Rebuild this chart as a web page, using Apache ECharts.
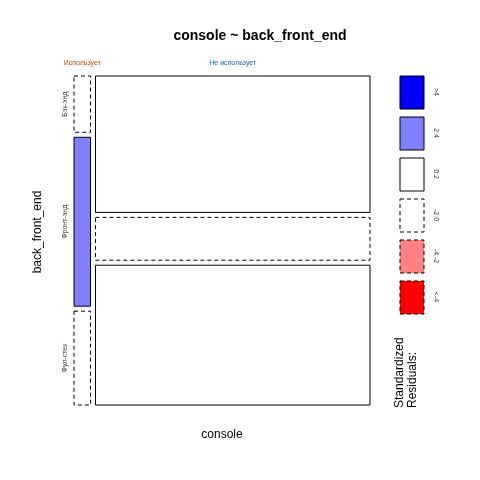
<!DOCTYPE html>
<html><head><meta charset="utf-8">
<script src="https://cdn.jsdelivr.net/npm/echarts@6/dist/echarts.min.js"></script>
<style>html,body{margin:0;background:#fff}#c{width:480px;height:480px}</style>
</head><body><div id="c"></div>
<script>
const colLabels = ['Использует', 'Не использует'];
const rowLabels = ['Бэк-энд', 'Фронт-энд', 'Фул-стек'];
const counts = [
  [3, 9, 5],        // Использует
  [121, 38, 124]    // Не использует
];
const legendLabels = ['>4', '2:4', '0:2', '-2:0', '-4:-2', '<-4'];

const GAP = 5, W = 291, H = 319;
const total = counts.flat().reduce((a, b) => a + b, 0);
const colTot = counts.map(c => c.reduce((a, b) => a + b, 0));
const rowTot = rowLabels.map((_, j) => counts.reduce((a, c) => a + c[j], 0));

function style(r) {
  if (r > 4) return { fill: '#0000ff', dash: false };
  if (r > 2) return { fill: '#8080ff', dash: false };
  if (r > 0) return { fill: '#ffffff', dash: false };
  if (r > -2) return { fill: '#ffffff', dash: true };
  if (r > -4) return { fill: '#ff8080', dash: true };
  return { fill: '#ff0000', dash: true };
}

const cells = [];
let x0 = 0;
counts.forEach((col, i) => {
  const w = colTot[i] / total * W;
  let y0 = 0;
  col.forEach((v, j) => {
    const h = v / colTot[i] * H;
    const e = colTot[i] * rowTot[j] / total;
    const res = (v - e) / Math.sqrt(e);
    cells.push([x0, y0, x0 + w, y0 + h, res, i, j]);
    y0 += h + GAP;
  });
  x0 += w + GAP;
});

const chart = echarts.init(document.getElementById('c'));
const txt = '#000';
const graphic = [];
legendLabels.forEach((l, k) => {
  const s = style([5, 3, 1, -1, -3, -5][k]);
  const y = 76 + k * 41;
  graphic.push({ type: 'rect', shape: { x: 400, y: y, width: 24, height: 33 },
    style: { fill: s.fill, stroke: '#000', lineWidth: 1, lineDash: s.dash ? [4, 3] : null } });
  graphic.push({ type: 'text', x: 436, y: y + 16, rotation: -Math.PI / 2,
    style: { text: l, fontSize: 7, fill: '#333', align: 'center', verticalAlign: 'middle', fontFamily: 'Liberation Sans' } });
});
graphic.push({ type: 'text', x: 406, y: 408, rotation: Math.PI / 2,
  style: { text: 'Standardized\nResiduals:', fontSize: 12, lineHeight: 13, fill: txt, align: 'left', verticalAlign: 'middle', fontFamily: 'Liberation Sans' } });
graphic.push({ type: 'text', x: 38, y: 232, rotation: Math.PI / 2,
  style: { text: 'back_front_end', fontSize: 12, fill: txt, align: 'center', verticalAlign: 'middle', fontFamily: 'Liberation Sans' } });

chart.setOption({
  animation: false,
  title: { text: 'console ~ back_front_end', left: 255, top: 24, textAlign: 'center',
    textStyle: { fontSize: 14, fontWeight: 'bold', fontFamily: 'Liberation Sans', color: '#000' } },
  grid: { left: 74, right: 110, top: 76, bottom: 75 },
  xAxis: { type: 'value', min: 0, max: W + GAP, show: true, name: 'console', nameLocation: 'middle', nameGap: 24,
    nameTextStyle: { fontSize: 12, color: '#000', fontFamily: 'Liberation Sans' },
    axisLine: { show: false }, axisTick: { show: false }, axisLabel: { show: false }, splitLine: { show: false } },
  yAxis: { type: 'value', min: 0, max: H + 2 * GAP, inverse: true, show: false },
  graphic: graphic,
  series: [{
    type: 'custom',
    data: cells,
    renderItem: (params, api) => {
      const p0 = api.coord([api.value(0), api.value(1)]);
      const p1 = api.coord([api.value(2), api.value(3)]);
      const s = style(api.value(4));
      const i = api.value(5), j = api.value(6);
      const ch = [{ type: 'rect', shape: { x: p0[0], y: p0[1], width: p1[0] - p0[0], height: p1[1] - p0[1] },
        style: { fill: s.fill, stroke: '#000', lineWidth: 1, lineDash: s.dash ? [4, 3] : null } }];
      if (j === 0) ch.push({ type: 'text', x: (p0[0] + p1[0]) / 2, y: p0[1] - 13,
        style: { text: colLabels[i], fontSize: 7, fill: i === 0 ? '#c05000' : '#1060c0', align: 'center', verticalAlign: 'middle', fontFamily: 'Liberation Sans' } });
      if (i === 0) ch.push({ type: 'text', x: p0[0] - 9, y: (p0[1] + p1[1]) / 2, rotation: Math.PI / 2,
        style: { text: rowLabels[j], fontSize: 7, fill: '#333', align: 'center', verticalAlign: 'middle', fontFamily: 'Liberation Sans' } });
      return { type: 'group', children: ch };
    }
  }]
});
</script></body></html>
